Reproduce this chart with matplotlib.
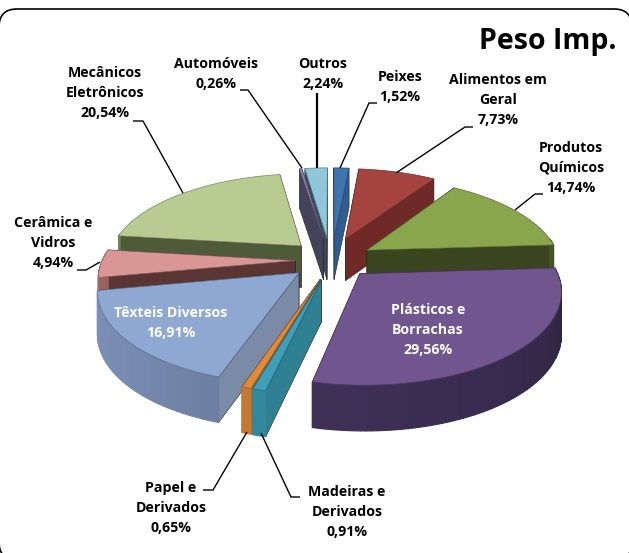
import numpy as np
import matplotlib
matplotlib.use("Agg")
import matplotlib.pyplot as plt
from matplotlib.patches import Polygon, FancyBboxPatch

plt.rcParams['font.family'] = ['Open Sans', 'DejaVu Sans']

# clockwise from the top
categories = ['Peixes', 'Alimentos em\nGeral', 'Produtos\nQuímicos', 'Plásticos e\nBorrachas',
              'Madeiras e\nDerivados', 'Papel e\nDerivados', 'Têxteis Diversos', 'Cerâmica e\nVidros',
              'Mecânicos\nEletrônicos', 'Automóveis', 'Outros']
values = [1.52, 7.73, 14.74, 29.56, 0.91, 0.65, 16.91, 4.94, 20.54, 0.26, 2.24]

top_colors = ['#3f74ae', '#a5433f', '#8aa64c', '#71558f', '#3f9fb9', '#e08a3a',
              '#8fa8d2', '#d99694', '#b8cc92', '#8d86b0', '#8fc6da']
wall_colors = ['#2f5c91', '#6f2a28', '#3b451f', '#3d2d52', '#2f8092', '#b8702e',
               '#7a8ba8', '#5a3534', '#4f5b38', '#45435c', '#3f4a5c']
arc_colors = ['#2f5c91', '#7a2f2c', '#5c7030', '#3a2c50', '#2f8092', '#b8702e',
              '#7487ac', '#a86a68', '#7f9060', '#45435c', '#5f95a8']
arc_light = [200, 200, 200, 200, 200, 200, 265, 200, 200, 200, 200]

explode = [0.233, 0.233, 0.225, 0.2, 0.233, 0.233, 0.215, 0.2, 0.22, 0.233, 0.233]
nudge_x = [2, 1, 0, 4, 3, 4, 1, 4, 1, 0, 0]
nudge_y = [0, 0, 2, 2, 1, 1, 2, 2, 1, 0, 0]

label_pos = [(400, 87), (498, 100), (571, 168), (428, 330), (347, 512), (171, 508),
             (171, 323), (53, 243), (105, 93), (216, 74), (323, 74)]
label_colors = ['black'] * 11
label_colors[3] = 'white'
label_colors[6] = 'white'

leaders = [[(377, 103), (369, 103), (340, 168)],
           [(473, 127), (465, 127), (396, 173)],
           [(543, 194), (535, 194), (515, 210)],
           [(261, 433), (291, 497), (300, 497)],
           [(247, 432), (213, 490), (203, 490)],
           [(77, 270), (86, 270), (100, 262)],
           [(133, 121), (143, 121), (183, 193)],
           [(240, 90), (248, 90), (302, 168)]]

CX, CY = 330, 258
R = 193
K = 88
P = 0.165
DEPTH = 42


def project(x, y):
    s = 1 / (1 + P * y)
    return CX + R * x * s, CY - K * y * s


def drop(y):
    return DEPTH * (1 / (1 + P * y)) ** 0.4


def shade(color, f):
    rgb = np.array(matplotlib.colors.to_rgb(color)) * f
    return tuple(np.clip(rgb, 0, 1))


fig = plt.figure(figsize=(6.29, 5.53), dpi=100)
ax = fig.add_axes([0, 0, 1, 1])
ax.set_xlim(0, 629)
ax.set_ylim(553, 0)
ax.axis('off')

# only the top edge of the frame is inside the picture
ax.add_patch(FancyBboxPatch((17, 27), 597, 515, boxstyle='round,pad=18,rounding_size=18',
                            fc='white', ec='black', lw=1.2))

edges = np.cumsum([0] + values) / sum(values) * 2 * np.pi
slices = []
for i in range(len(values)):
    a0, a1 = edges[i], edges[i + 1]
    mid = (a0 + a1) / 2
    ax0 = explode[i] * np.sin(mid)
    ay0 = explode[i] * np.cos(mid)
    ang = np.linspace(a0, a1, max(3, int((a1 - a0) * 40)))
    xs = ax0 + np.sin(ang)
    ys = ay0 + np.cos(ang)
    slices.append((ay0, i, ax0, ang, xs, ys))

# back slices first
for ay0, i, ax0, ang, xs, ys in sorted(slices, key=lambda t: -t[0]):
    nx, ny = nudge_x[i], nudge_y[i]
    walls = []
    for x1, y1 in [(xs[0], ys[0]), (xs[-1], ys[-1])]:
        walls.append(((y1 + ay0) / 2, x1, y1))
    walls.sort(key=lambda t: -t[0])
    for _, x1, y1 in walls:
        px0, py0 = project(ax0, ay0)
        px1, py1 = project(x1, y1)
        poly = [(px0, py0), (px1, py1), (px1, py1 + drop(y1)), (px0, py0 + drop(ay0))]
        poly = [(p[0] + nx, p[1] + ny) for p in poly]
        ax.add_patch(Polygon(poly, fc=wall_colors[i], ec='#222222', lw=0.4, joinstyle='round'))
    order = np.argsort(-(ys[:-1] + ys[1:]))
    for j in order:
        if ys[j] + ys[j + 1] > 2 * ay0 + 0.3:
            continue
        mid_a = (ang[j] + ang[j + 1]) / 2
        c = shade(arc_colors[i], 0.85 + 0.22 * np.cos(mid_a - np.radians(arc_light[i])))
        px0, py0 = project(xs[j], ys[j])
        px1, py1 = project(xs[j + 1], ys[j + 1])
        poly = [(px0, py0), (px1, py1), (px1, py1 + drop(ys[j + 1])), (px0, py0 + drop(ys[j]))]
        poly = [(p[0] + nx, p[1] + ny) for p in poly]
        ax.add_patch(Polygon(poly, fc=c, ec=c, lw=0.9))
    px, py = project(np.r_[ax0, xs], np.r_[ay0, ys])
    ax.add_patch(Polygon(np.c_[px + nx, py + ny], fc=top_colors[i], ec=shade(top_colors[i], 0.65), lw=0.5))

for pts in leaders:
    ax.plot(*zip(*pts), color='black', lw=1, solid_capstyle='butt')
ax.plot([317, 317], [93, 168], color='black', lw=1.6, solid_capstyle='butt')

for name, v, pos, col in zip(categories, values, label_pos, label_colors):
    txt = name + '\n' + f'{v:.2f}'.replace('.', ',') + '%'
    ax.text(pos[0], pos[1], txt, ha='center', va='center', color=col, fontsize=10.2,
            fontweight='bold', linespacing=1.58)

ax.text(548, 41, 'Peso Imp.', ha='center', va='center', fontsize=20.5, fontweight='bold')

fig.savefig('out.png', dpi=100)
